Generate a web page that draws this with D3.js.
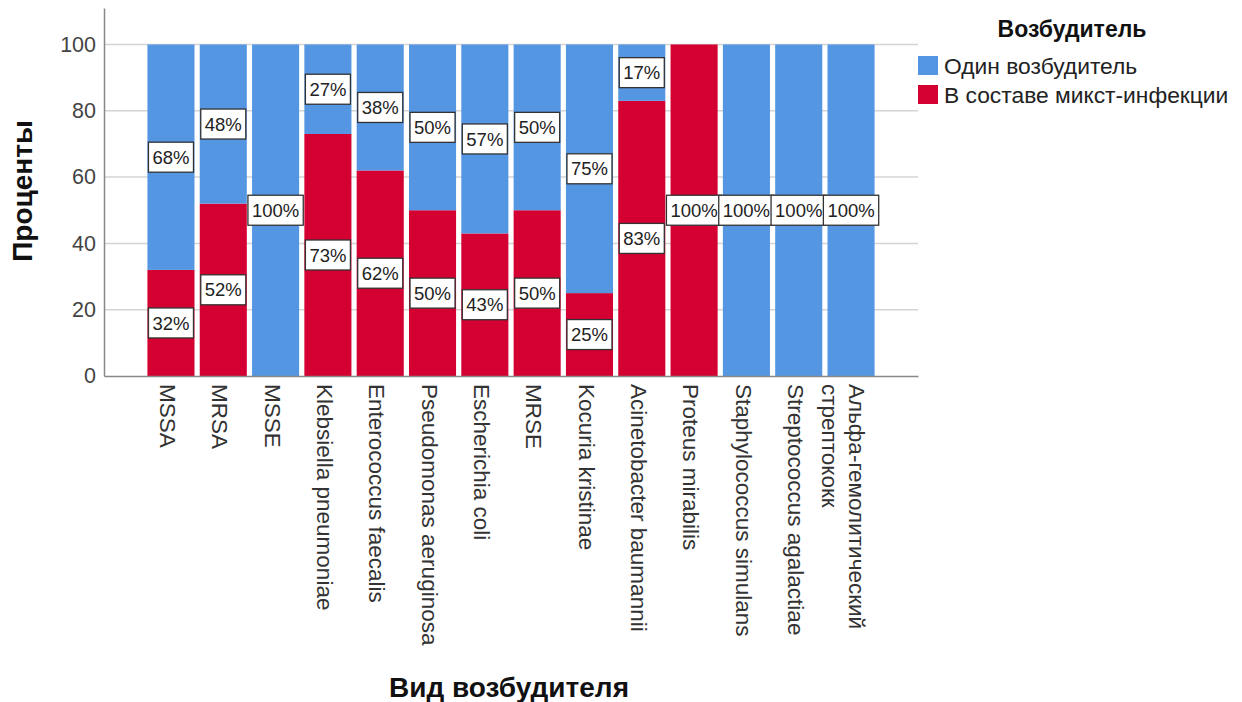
<!DOCTYPE html>
<html>
<head>
<meta charset="utf-8">
<script src="https://cdn.jsdelivr.net/npm/d3@7"></script>
<style>
  html, body { margin: 0; padding: 0; background: #fff; }
  svg { display: block; font-family: "Liberation Sans", Arial, sans-serif; }
</style>
</head>
<body>
<svg id="chart" width="1242" height="702"></svg>
<script>
// Pathogen categories (multi-line names split by "\n")
const categories = [
  "MSSA", "MRSA", "MSSE", "Klebsiella pneumoniae", "Enterococcus faecalis",
  "Pseudomonas aeruginosa", "Escherichia coli", "MRSE", "Kocuria kristinae",
  "Acinetobacter baumannii", "Proteus mirabilis", "Staphylococcus simulans",
  "Streptococcus agalactiae", "Альфа-гемолитический\nстрептококк"
];
// Share of cases (%) as part of a mixed infection
const mixedValues = [32, 52, 0, 73, 62, 50, 43, 50, 25, 83, 100, 0, 0, 0];
// Share of cases (%) with a single pathogen
const singleValues = [68, 48, 100, 27, 38, 50, 57, 50, 75, 17, 0, 100, 100, 100];
const yTicks = [0, 20, 40, 60, 80, 100];
const seriesNames = ["Один возбудитель", "В составе микст-инфекции"];
const legendTitle = "Возбудитель";
const xTitle = "Вид возбудителя";
const yTitle = "Проценты";

const colors = { single: "#5596e3", mixed: "#d50032" };

const svg = d3.select("#chart");
const plot = { left: 104, right: 918, top: 8, bottom: 376 };

const x = d3.scaleBand()
  .domain(categories)
  .range([plot.left, plot.right])
  .paddingInner(0.1)
  .paddingOuter(0.83);

const y = d3.scaleLinear()
  .domain([0, 111])
  .range([plot.bottom, plot.top]);

// gridlines
svg.append("g")
  .selectAll("line")
  .data(yTicks.filter(t => t > 0))
  .join("line")
  .attr("x1", plot.left).attr("x2", plot.right)
  .attr("y1", d => y(d)).attr("y2", d => y(d))
  .attr("stroke", "#d4d4d4").attr("stroke-width", 1.5);

// stacked rows: mixed at the bottom, single on top
const rows = categories.map((c, i) => ({ cat: c, mixed: mixedValues[i], single: singleValues[i] }));
const stack = d3.stack().keys(["mixed", "single"]);
const layers = stack(rows);

const barG = svg.append("g");
layers.forEach(layer => {
  barG.append("g")
    .attr("fill", colors[layer.key])
    .selectAll("rect")
    .data(layer.filter(d => d[1] - d[0] > 0))
    .join("rect")
    .attr("x", d => x(d.data.cat))
    .attr("width", x.bandwidth())
    .attr("y", d => y(d[1]))
    .attr("height", d => y(d[0]) - y(d[1]));
});

// axes
const yAxis = d3.axisLeft(y).tickValues(yTicks).tickSize(0).tickPadding(8);
const yG = svg.append("g").attr("transform", `translate(${plot.left},0)`).call(yAxis);
yG.select(".domain").attr("stroke", "#888").attr("stroke-width", 1.5);
yG.selectAll("text").attr("font-size", 21.5).attr("fill", "#444")
  .attr("font-family", "Liberation Sans, Arial, sans-serif");

const xAxis = d3.axisBottom(x).tickSize(0).tickFormat("");
const xG = svg.append("g").attr("transform", `translate(0,${plot.bottom})`).call(xAxis);
xG.select(".domain").attr("stroke", "#888").attr("stroke-width", 1.5);

// rotated category labels
const catLabels = svg.append("g")
  .selectAll("text")
  .data(categories)
  .join("text")
  .attr("transform", d => `translate(${x(d) + x.bandwidth() / 2},${plot.bottom + 8}) rotate(90)`)
  .attr("font-size", 22.5)
  .attr("fill", "#333");
catLabels.each(function (d) {
  const lines = d.split("\n");
  const n = lines.length;
  const base = n > 1 ? 7.5 : 3;
  d3.select(this).selectAll("tspan")
    .data(lines)
    .join("tspan")
    .attr("x", 0)
    .attr("y", (l, i) => base + (i - (n - 1) / 2) * 27)
    .attr("dy", "0.35em")
    .text(l => l);
});

// value labels in white boxes
const labelG = svg.append("g");
layers.forEach(layer => {
  layer.filter(d => d[1] - d[0] > 0).forEach(d => {
    const cx = x(d.data.cat) + x.bandwidth() / 2;
    const cy = y((d[0] + d[1]) / 2);
    const g = labelG.append("g").attr("transform", `translate(${cx},${cy})`);
    const t = g.append("text")
      .attr("text-anchor", "middle")
      .attr("dy", "0.36em")
      .attr("font-size", 18.5)
      .attr("fill", "#222")
      .text(`${d[1] - d[0]}%`);
    const w = t.node().getComputedTextLength() + 8;
    g.insert("rect", "text")
      .attr("x", -w / 2).attr("y", -15)
      .attr("width", w).attr("height", 30)
      .attr("fill", "#fff").attr("stroke", "#333").attr("stroke-width", 1.3);
  });
});

// axis titles
svg.append("text")
  .attr("x", 509).attr("y", 697)
  .attr("text-anchor", "middle")
  .attr("font-size", 28).attr("font-weight", "bold").attr("fill", "#111")
  .text(xTitle);

svg.append("text")
  .attr("transform", `translate(32,191) rotate(-90)`)
  .attr("text-anchor", "middle")
  .attr("font-size", 28).attr("font-weight", "bold").attr("fill", "#111")
  .text(yTitle);

// legend
const legend = svg.append("g");
legend.append("text")
  .attr("x", 1072).attr("y", 37)
  .attr("text-anchor", "middle")
  .attr("font-size", 23).attr("font-weight", "bold").attr("fill", "#111")
  .text(legendTitle);
const legendColors = [colors.single, colors.mixed];
seriesNames.forEach((name, i) => {
  const yy = 56 + i * 29;
  legend.append("rect")
    .attr("x", 918).attr("y", yy).attr("width", 20).attr("height", 19)
    .attr("fill", legendColors[i]);
  legend.append("text")
    .attr("x", 944).attr("y", yy + 10).attr("dy", "0.36em")
    .attr("font-size", 22.8).attr("fill", "#222")
    .text(name);
});
</script>
</body>
</html>
